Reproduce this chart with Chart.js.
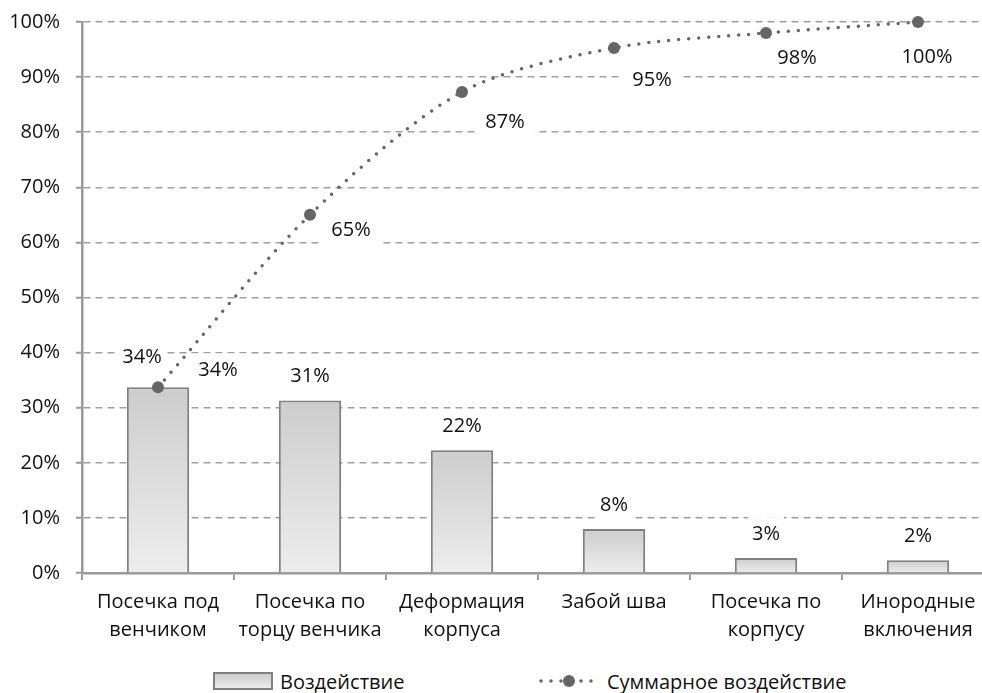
<!DOCTYPE html>
<html lang="ru">
<head>
<meta charset="utf-8">
<title>Диаграмма Парето</title>
<script src="https://cdn.jsdelivr.net/npm/chart.js"></script>
<style>
    html, body { margin: 0; padding: 0; background: #fff; overflow: hidden; }
    body { width: 982px; height: 693px; position: relative; font-family: 'Open Sans', sans-serif; color: #111; }
    #wrap { position: absolute; left: 0; top: 0; width: 1000px; height: 645px; }
    .legend-item { position: absolute; top: 667px; height: 28px; display: flex; align-items: center; font-size: 20px; }
    .legend-box {
        width: 56px; height: 14px; margin-right: 7px;
        border: 2px solid #7f7f7f;
        background: linear-gradient(#cdcdcd, #ececec);
    }
    .legend-line { margin-right: 7px; }
</style>
</head>
<body>
<div id="wrap"><canvas id="paretoChart" width="1000" height="645"></canvas></div>
<div class="legend-item" style="left:213px"><span class="legend-box"></span><span id="lg0"></span></div>
<div class="legend-item" style="left:538px">
    <svg class="legend-line" width="62" height="16">
        <line x1="3" y1="8" x2="60" y2="8" stroke="#666" stroke-width="3.5" stroke-linecap="round" stroke-dasharray="0 10"/>
        <circle cx="31" cy="8" r="6" fill="#666"/>
    </svg>
    <span id="lg1"></span>
</div>
<script>
// Диаграмма Парето: причины брака

// Данные
const categories = [
    ['Посечка под', 'венчиком'],
    ['Посечка по', 'торцу венчика'],
    ['Деформация', 'корпуса'],
    ['Забой шва'],
    ['Посечка по', 'корпусу'],
    ['Инородные', 'включения']
];
const impact = [33.7, 31.3, 22.3, 8.0, 2.7, 2.3];          // Воздействие, %
const cumulative = [33.7, 65.0, 87.3, 95.3, 98.0, 100.0];  // Суммарное воздействие, %
const seriesNames = ['Воздействие', 'Суммарное воздействие'];
const yTicks = [0, 10, 20, 30, 40, 50, 60, 70, 80, 90, 100];

const FONT = "'Open Sans', sans-serif";
const TEXT_COLOR = '#111';
const AXIS_COLOR = '#9a9a9a';

document.getElementById('lg0').textContent = seriesNames[0];
document.getElementById('lg1').textContent = seriesNames[1];

// Подписи значений с белой подложкой (подложка рвёт линии сетки)
const valueLabels = {
    id: 'valueLabels',
    items(chart, opts) {
        const list = [];
        const barMeta = chart.getDatasetMeta(0);
        const lineMeta = chart.getDatasetMeta(1);
        barMeta.data.forEach((el, i) => {
            const off = opts.barOffsets[i] || [0, 0];
            list.push({ x: el.x + off[0], y: el.y - 24 + off[1], text: Math.round(impact[i]) + '%', pad: 4 });
        });
        lineMeta.data.forEach((el, i) => {
            const off = opts.lineOffsets[i] || [35, 28];
            list.push({ x: el.x + off[0], y: el.y + off[1], text: Math.round(cumulative[i]) + '%', pad: 10 });
        });
        return list;
    },
    beforeDatasetsDraw(chart, args, opts) {
        const ctx = chart.ctx;
        ctx.save();
        ctx.font = '20px ' + FONT;
        ctx.fillStyle = '#fff';
        this.items(chart, opts).forEach(it => {
            const w = ctx.measureText(it.text).width + it.pad * 2;
            ctx.fillRect(it.x - w / 2, it.y - 17, w, 34);
        });
        ctx.restore();
    },
    afterDatasetsDraw(chart, args, opts) {
        const ctx = chart.ctx;
        ctx.save();
        ctx.font = '20px ' + FONT;
        ctx.fillStyle = TEXT_COLOR;
        ctx.textAlign = 'center';
        ctx.textBaseline = 'middle';
        this.items(chart, opts).forEach(it => ctx.fillText(it.text, it.x, it.y));
        ctx.restore();
    }
};

// Градиент столбца от верха к оси
function barGradient(context) {
    const chart = context.chart;
    const yScale = chart.scales.y;
    if (!chart.chartArea || !yScale || context.raw === undefined) return '#dcdcdc';
    const top = yScale.getPixelForValue(context.raw);
    const bottom = yScale.getPixelForValue(0);
    const g = chart.ctx.createLinearGradient(0, top, 0, bottom);
    g.addColorStop(0, '#cdcdcd');
    g.addColorStop(1, '#ededed');
    return g;
}

const ctx = document.getElementById('paretoChart').getContext('2d');
const paretoChart = new Chart(ctx, {
    data: {
        labels: categories,
        datasets: [{
            type: 'bar',
            label: seriesNames[0],
            data: impact,
            backgroundColor: barGradient,
            borderColor: '#7f7f7f',
            borderWidth: 2,
            barPercentage: 0.41,
            categoryPercentage: 1,
            order: 2
        }, {
            type: 'line',
            label: seriesNames[1],
            data: cumulative,
            borderColor: '#666',
            borderWidth: 3.5,
            borderDash: [0, 10],
            borderCapStyle: 'round',
            tension: 0.3,
            pointRadius: 6,
            pointBackgroundColor: '#666',
            pointBorderWidth: 0,
            clip: false,
            order: 1
        }]
    },
    options: {
        responsive: false,
        animation: false,
        layout: { padding: { top: 22, left: 0, right: 0, bottom: 0 } },
        plugins: {
            legend: { display: false },
            tooltip: { enabled: false },
            valueLabels: {
                barOffsets: [[-16, -6]],
                lineOffsets: [[60, -17], [41, 15], [43, 30], [38, 32], [31, 25], [9, 35]]
            }
        },
        scales: {
            x: {
                offset: true,
                grid: {
                    offset: true,
                    drawOnChartArea: false,
                    drawTicks: true,
                    tickLength: 7,
                    color: AXIS_COLOR,
                    lineWidth: 2
                },
                border: { display: true, color: AXIS_COLOR, width: 2.5 },
                ticks: {
                    color: TEXT_COLOR,
                    font: { family: FONT, size: 20, lineHeight: 1.4 },
                    padding: 8,
                    maxRotation: 0,
                    autoSkip: false
                },
                afterFit(scale) { scale.height = 72; }
            },
            y: {
                min: 0,
                max: 100,
                afterBuildTicks(scale) { scale.ticks = yTicks.map(v => ({ value: v })); },
                grid: {
                    color: '#a0a0a0',
                    lineWidth: 1.5,
                    tickLength: 6,
                    tickColor: AXIS_COLOR,
                    tickWidth: 2
                },
                border: { display: true, color: AXIS_COLOR, width: 2.5, dash: [7, 5] },
                ticks: {
                    color: TEXT_COLOR,
                    font: { family: FONT, size: 20 },
                    padding: 16,
                    callback: v => v + '%'
                },
                afterFit(scale) {
                    scale.width = 82;
                    scale.paddingTop = 0;
                    scale.paddingBottom = 0;
                }
            }
        }
    },
    plugins: [valueLabels]
});
</script>
</body>
</html>
